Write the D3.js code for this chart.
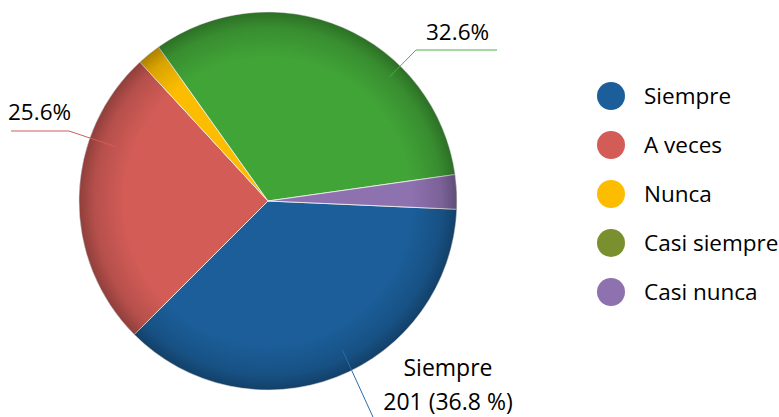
<!DOCTYPE html>
<html>
<head>
<meta charset="utf-8">
<script src="https://cdn.jsdelivr.net/npm/d3@7"></script>
<style>
  body { margin: 0; background: #fff; }
  svg text { font-family: "Open Sans", sans-serif; fill: #000; }
</style>
</head>
<body>
<div id="chart"></div>
<script>
// data
const categories = ["Siempre", "A veces", "Nunca", "Casi siempre", "Casi nunca"];
const counts = [201, 140, 11, 178, 16];
const sliceColors = ["#1b5e99", "#d35c57", "#fcbd00", "#41a437", "#8e71af"];
const legendColors = ["#1b5e99", "#d35c57", "#fcbd00", "#7a902f", "#8e71af"];

let width = 779, height = 417;
let cx = 268, cy = 201, radius = 189;

let svg = d3.select("#chart").append("svg")
    .attr("width", width)
    .attr("height", height);

// edge shading gradient
let defs = svg.append("defs");
let grad = defs.append("radialGradient").attr("id", "edge");
grad.append("stop").attr("offset", "76%").attr("stop-color", "#000").attr("stop-opacity", 0);
grad.append("stop").attr("offset", "92%").attr("stop-color", "#000").attr("stop-opacity", 0.14);
grad.append("stop").attr("offset", "100%").attr("stop-color", "#000").attr("stop-opacity", 0.32);

let startAngle = 92.5 * Math.PI / 180;

let pie = d3.pie().sort(null)
    .startAngle(startAngle)
    .endAngle(startAngle + 2 * Math.PI);
let arcs = pie(counts);

let arc = d3.arc().innerRadius(0).outerRadius(radius);

let g = svg.append("g").attr("transform", `translate(${cx},${cy})`);

g.selectAll("path.slice")
    .data(arcs)
    .enter().append("path")
    .attr("class", "slice")
    .attr("d", arc)
    .attr("fill", (d, i) => sliceColors[i])
    .attr("stroke", "#f4f4f4")
    .attr("stroke-width", 0.8);

g.append("circle")
    .attr("r", radius)
    .attr("fill", "url(#edge)")
    .attr("pointer-events", "none");

// labels: slice index, position inside slice (fraction of angle, radius), label anchor
let labels = [
    {i: 1, frac: 0.70, rr: 0.85, lines: ["25.6%"], tx: 8, ty: 120, anchor: "start", size: 22.5,
        elbow: [69, 131], end: [11, 131], color: "#d35c57"},
    {i: 3, frac: 0.68, rr: 0.92, lines: ["32.6%"], tx: 426, ty: 40, anchor: "start", size: 22.5,
        elbow: [416, 50], end: [497, 50], color: "#4cb044"},
    {i: 0, frac: 0.46, rr: 0.88, lines: ["Siempre", "201 (36.8 %)"], tx: 448, ty: 376, anchor: "middle", size: 23,
        elbow: null, end: [378, 428], color: "#2a6cad"}
];

function pointAt(d, frac, rr) {
    let a = d.startAngle + (d.endAngle - d.startAngle) * frac;
    return [cx + radius * rr * Math.sin(a), cy - radius * rr * Math.cos(a)];
}

labels.forEach(l => {
    let p = pointAt(arcs[l.i], l.frac, l.rr);
    let pts = [p];
    if (l.elbow) pts.push(l.elbow);
    pts.push(l.end);
    svg.append("path")
        .attr("d", d3.line()(pts))
        .attr("fill", "none")
        .attr("stroke", l.color)
        .attr("stroke-width", 1);

    let t = svg.append("text")
        .attr("x", l.tx)
        .attr("y", l.ty)
        .attr("text-anchor", l.anchor)
        .style("font-size", l.size + "px");
    l.lines.forEach((s, k) => {
        t.append("tspan").attr("x", l.tx).attr("dy", k === 0 ? 0 : 34).text(s);
    });
});

// legend
let legendY = d3.scalePoint().domain(categories).range([96, 292]);
let legend = svg.append("g");
categories.forEach((c, i) => {
    legend.append("circle")
        .attr("cx", 611)
        .attr("cy", legendY(c))
        .attr("r", 14)
        .attr("fill", legendColors[i]);
    legend.append("text")
        .attr("x", 644)
        .attr("y", legendY(c) + 8)
        .style("font-size", "22.5px")
        .text(c);
});
</script>
</body>
</html>
